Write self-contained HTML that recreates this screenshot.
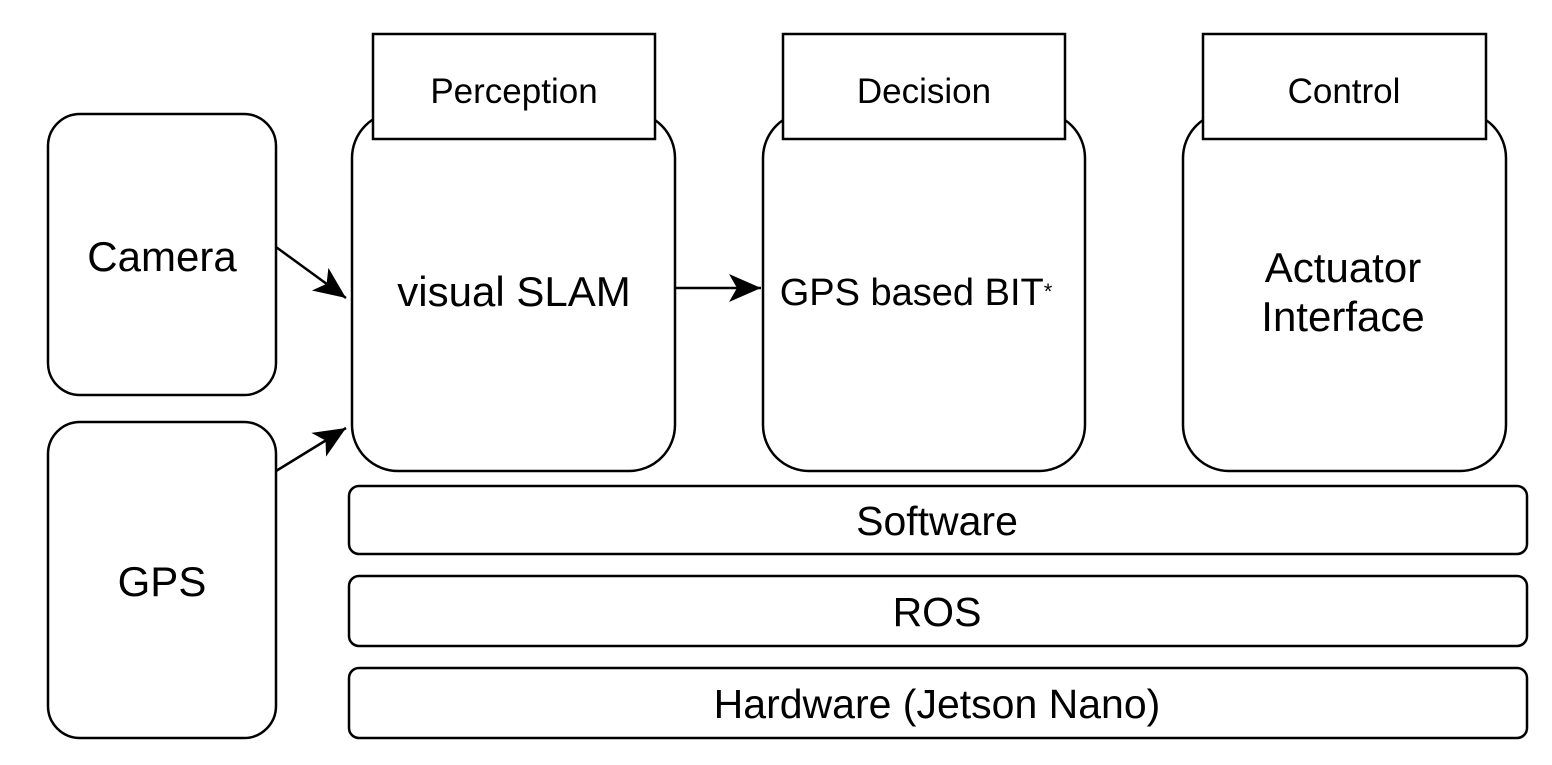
<!DOCTYPE html>
<html><head><style>body{margin:0;background:#fff}</style></head><body>
<svg width="1552" height="760" xmlns="http://www.w3.org/2000/svg" font-family="Liberation Sans, sans-serif" fill="none" stroke="#000" stroke-width="2.5">
<defs>
<marker id="b" markerWidth="34" markerHeight="30" refX="32" refY="15" orient="auto" markerUnits="userSpaceOnUse"><path d="M0,1 L32,15 L0,29 L8,15 Z" fill="#000" stroke="none"/></marker></defs>
<rect x="48" y="114" width="228" height="281" rx="32"/>
<rect x="48" y="422" width="228" height="316" rx="32"/>
<rect x="352" y="112" width="323" height="359" rx="46"/>
<rect x="763" y="112" width="322" height="359" rx="46"/>
<rect x="1183" y="112" width="323" height="359" rx="46"/>
<rect x="373" y="34" width="282" height="105" fill="#fff"/>
<rect x="783" y="34" width="282" height="105" fill="#fff"/>
<rect x="1203" y="34" width="283" height="105" fill="#fff"/>
<rect x="349" y="486" width="1178" height="68" rx="10"/>
<rect x="349" y="576" width="1178" height="70" rx="10"/>
<rect x="349" y="668" width="1178" height="70" rx="10"/>
<line x1="276" y1="247" x2="346" y2="298" marker-end="url(#b)"/>
<line x1="276" y1="471" x2="346" y2="428" marker-end="url(#b)"/>
<line x1="676" y1="288" x2="761" y2="288" marker-end="url(#b)"/>
<g fill="#000" stroke="none" text-anchor="middle">
<text x="514" y="103" font-size="35">Perception</text>
<text x="924" y="103" font-size="35">Decision</text>
<text x="1344" y="103" font-size="35">Control</text>
<text x="162" y="271" font-size="42">Camera</text>
<text x="162" y="596" font-size="42">GPS</text>
<text x="514" y="306" font-size="42">visual SLAM</text>
<text x="916" y="305" font-size="38">GPS based BIT<tspan font-size="22" dy="-6">*</tspan></text>
<text x="1343" y="282" font-size="42">Actuator</text>
<text x="1343" y="331" font-size="42">Interface</text>
<text x="937" y="535" font-size="41">Software</text>
<text x="937" y="626" font-size="41">ROS</text>
<text x="937" y="718" font-size="41">Hardware (Jetson Nano)</text>
</g>
</svg>
</body></html>
